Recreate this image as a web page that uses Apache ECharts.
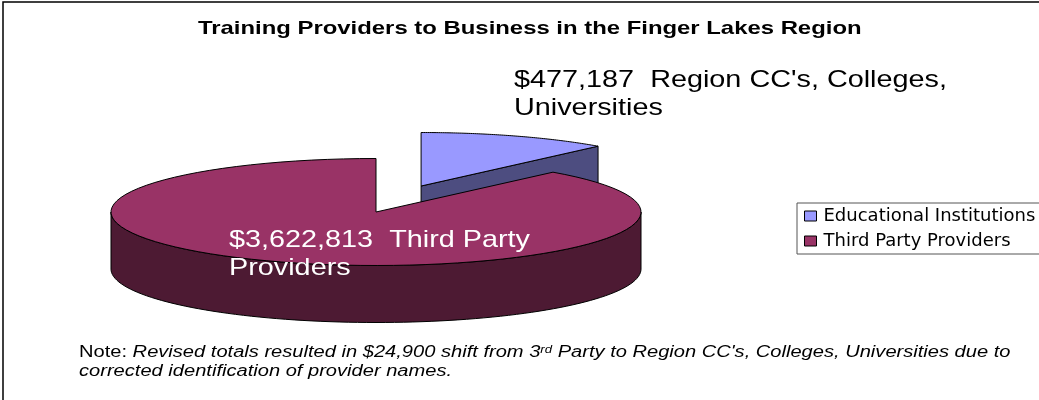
<!DOCTYPE html>
<html><head><meta charset="utf-8">
<style>html,body{margin:0;padding:0;background:#fff}#c{width:1039px;height:400px}</style>
<script src="https://cdn.jsdelivr.net/npm/echarts@6/dist/echarts.min.js"></script>
</head><body><div id="c"></div>
<script>
const categories = ['Educational Institutions', 'Third Party Providers'];
const values = [477187, 3622813];
const sliceLabels = ["$477,187  Region CC's, Colleges,\nUniversities", "$3,622,813  Third Party\nProviders"];
const chartTitle = 'Training Providers to Business in the Finger Lakes Region';
const noteLines = ['Note: ', 'Revised totals resulted in $24,900 shift from 3', 'rd', " Party to Region CC's, Colleges, Universities due to", 'corrected identification of provider names.'];

const FONT = '"Liberation Sans", Arial, sans-serif';
const total = values.reduce((a, b) => a + b, 0);
const pie = {cx: 376, cy: 212, rx: 265, ry: 53.5, depth: 57, explode: 0.46};
const topCol = ['#9999FF', '#993366'], sideCol = ['#4D4D80', '#4D1A33'];
const labelPos = [[514, 94.5], [229, 254.5]], labelCol = ['#000', '#fff'];

function pt(c, th, dy) {
  return [c[0] + pie.rx * Math.sin(th), c[1] - pie.ry * Math.cos(th) + (dy || 0)];
}
function arc(c, a, b, dy) {
  const out = [], n = 90;
  for (let i = 0; i <= n; i++) out.push(pt(c, a + (b - a) * i / n, dy));
  return out;
}
function renderSlice(params, api) {
  const idx = params.seriesIndex;
  let start = 0;
  for (let i = 0; i < idx; i++) start += values[i] / total * Math.PI * 2;
  const end = start + api.value(0) / total * Math.PI * 2;
  const mid = (start + end) / 2;
  const e = idx === 0 ? pie.explode : 0;
  const c = [pie.cx + (idx === 0 ? 1.5 : 0) + e * pie.rx * Math.sin(mid), pie.cy - e * pie.ry * Math.cos(mid) - (idx === 0 ? 3 : 0)];
  const edge = {stroke: '#000', lineWidth: 1, lineJoin: 'round'};
  const ch = [];
  const side = Object.assign({fill: sideCol[idx]}, edge);
  if (idx === 0) {
    const p = pt(c, end);
    ch.push({type: 'polygon', shape: {points: [c, p, [p[0], p[1] + pie.depth], [c[0], c[1] + pie.depth]]}, style: side});
  } else {
    const a = Math.PI / 2, b = Math.PI * 1.5;
    ch.push({type: 'polygon', shape: {points: arc(c, a, b, 0).concat(arc(c, b, a, pie.depth))}, style: side});
  }
  ch.push({type: 'polygon', shape: {points: [c].concat(arc(c, start, end))}, style: Object.assign({fill: topCol[idx]}, edge)});
  ch.push({type: 'text', x: labelPos[idx][0], y: labelPos[idx][1], scaleX: 1.2,
    style: {text: sliceLabels[idx], fill: labelCol[idx], font: '24px ' + FONT, lineHeight: 28, verticalAlign: 'middle'}});
  return {type: 'group', children: ch};
}

const chart = echarts.init(document.getElementById('c'), null, {renderer: 'canvas'});
chart.setOption({
  animation: false,
  backgroundColor: '#fff',
  legend: {
    orient: 'vertical', left: 797, top: 203, data: categories, icon: 'rect', selectedMode: false,
    itemWidth: 12, itemHeight: 10, itemGap: 7, padding: [4, 20, 4, 7],
    borderColor: '#555', borderWidth: 1, backgroundColor: '#fff',
    textStyle: {fontFamily: '"DejaVu Sans", sans-serif', fontSize: 18, color: '#000', padding: [0, 0, 0, 2]},
    itemStyle: {borderColor: '#000', borderWidth: 1}
  },
  graphic: [
    {type: 'rect', z: -10, silent: true, shape: {x: 3, y: 2, width: 1200, height: 600}, style: {fill: 'none', stroke: '#000', lineWidth: 1.5}},
    {type: 'text', x: 198, y: 29, scaleX: 1.257, silent: true,
      style: {text: chartTitle, fill: '#000', font: 'bold 19px ' + FONT, verticalAlign: 'middle'}},
    {type: 'text', x: 79, y: 353, silent: true, scaleX: 1.256,
      style: {text: '{n|' + noteLines[0] + '}{i|' + noteLines[1] + '}{s|' + noteLines[2] + '}{i|' + noteLines[3] + '}',
        verticalAlign: 'middle',
        rich: {n: {font: '16px ' + FONT, fill: '#000'}, i: {font: 'italic 16px ' + FONT, fill: '#000'},
          s: {font: 'italic 10.5px ' + FONT, fill: '#000', verticalAlign: 'top'}}}},
    {type: 'text', x: 79, y: 372, silent: true, scaleX: 1.256,
      style: {text: noteLines[4], fill: '#000', font: 'italic 16px ' + FONT, verticalAlign: 'middle'}}
  ],
  series: categories.map((name, i) => ({
    type: 'custom', name, coordinateSystem: 'none', silent: true, clip: false,
    itemStyle: {color: topCol[i]},
    data: [[values[i]]], renderItem: renderSlice
  }))
});
</script></body></html>
